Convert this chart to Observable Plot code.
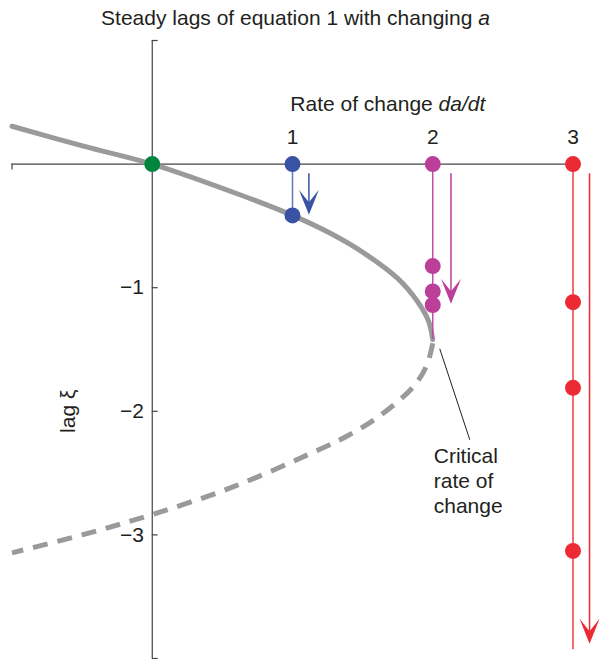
<!DOCTYPE html>
<html>
<head>
<meta charset="utf-8">
<script src="https://cdn.jsdelivr.net/npm/d3@7"></script>
<script src="https://cdn.jsdelivr.net/npm/@observablehq/plot@0.6"></script>
<style>
  body { margin: 0; background: #fff; }
  svg { display: block; }
</style>
</head>
<body>
<div id="chart"></div>
<script>
// Steady lag ξ as a function of the rate of change da/dt: [rate, lag]
const stableBranch = [
  [-1, 0.306], [-0.49, 0.145], [0, 0], [0.63, -0.25], [1, -0.415],
  [1.27, -0.56], [1.51, -0.72], [1.75, -0.925], [1.89, -1.11],
  [1.97, -1.27], [2.0, -1.42]
];
const unstableBranch = [
  [2.0, -1.45], [1.96, -1.62], [1.87, -1.79], [1.63, -2.03], [1.39, -2.2],
  [1.176, -2.317], [0.58, -2.61], [0, -2.835], [-0.5, -3.0], [-1, -3.145]
];

// Simulated runs at three rates of change
const runRates = [1, 2, 3];
const runColors = ["#3853a4", "#bb3f99", "#ec2a33"];
const runLineColors = ["#6177ba", "#c44ea3", "#ee3b42"];
const runLags = [
  [0, -0.415],
  [0, -0.825, -1.03, -1.14],
  [0, -1.117, -1.81, -3.13]
];
const runLineEnd = [-0.415, -1.42, -3.93];
const arrowRates = [1.117, 2.13, 3.118];
const arrowFrom = [-0.078, -0.078, -0.078];
const arrowTo = [-0.41, -1.13, -3.88];

// Equilibrium at zero rate
const originPoint = [[0, 0]];

// Axis ticks and labels
const xTicks = [1, 2, 3];
const xTickLabels = ["1", "2", "3"];
const yTicks = [-1, -2, -3];
const yTickLabels = ["−1", "−2", "−3"];
const yCaps = [1, -4];

// Annotation of the fold point
const noteText = ["Critical\nrate of\nchange"];
const notePos = [[2.007, -2.278]];
const noteLeader = [[2.05, -1.494, 2.264, -2.23]];

const font = "Liberation Sans, Arial, Helvetica, sans-serif";
const ink = "#231f20";
const axisInk = "#444";

// rows
const dotRows = runRates.flatMap((r, i) =>
  runLags[i].map(l => ({x: r, y: l, c: runColors[i]})));
const lineRows = runRates.map((r, i) => ({x: r, y1: 0, y2: runLineEnd[i], c: runLineColors[i]}));
const arrowRows = arrowRates.map((r, i) => ({x: r, y1: arrowFrom[i], y2: arrowTo[i], c: runColors[i]}));

// Notched arrowhead with its tip at the origin, pointing down
const arrowHead = {
  draw(ctx) {
    ctx.moveTo(0, 0);
    ctx.lineTo(-10, -25);
    ctx.lineTo(0, -12.5);
    ctx.lineTo(10, -25);
    ctx.closePath();
  }
};

const textStyle = {fontFamily: font, fontSize: 21, fill: ink};

const chart = Plot.plot({
  width: 600,
  height: 659,
  marginLeft: 11.5,
  marginRight: 27.5,
  marginTop: 40,
  marginBottom: 1,
  x: {domain: [-1, 3], axis: null},
  y: {domain: [-4, 1], axis: null},
  style: {fontFamily: font, background: "#fff", overflow: "visible"},
  marks: [
    // axes crossing at the origin
    Plot.ruleY([0], {x1: -1, x2: 3, stroke: axisInk, strokeWidth: 1.2}),
    Plot.ruleX([0], {y1: -4, y2: 1, stroke: axisInk, strokeWidth: 1.2}),
    Plot.ruleY(yTicks.concat(yCaps), {x1: 0, x2: 0.042, stroke: axisInk, strokeWidth: 1.2}),
    Plot.ruleX([-1], {y1: 0, y2: -0.047, stroke: axisInk, strokeWidth: 1.2}),
    Plot.text(xTicks, {x: d => d, y: 0, text: (d, i) => xTickLabels[i], dy: -20.3, lineAnchor: "bottom", ...textStyle}),
    Plot.text(yTicks, {x: 0, y: d => d, text: (d, i) => yTickLabels[i], textAnchor: "end", dx: -8.4, lineAnchor: "middle", ...textStyle}),
    Plot.text(["Rate of change"], {x: 2.0, y: 0.428, textAnchor: "end", lineAnchor: "bottom", ...textStyle}),
    Plot.text(["da/dt"], {x: 2.0, y: 0.428, textAnchor: "start", dx: 5.8, lineAnchor: "bottom", fontStyle: "italic", ...textStyle}),
    Plot.text(["lag ξ"], {x: -0.6, y: -2.0, rotate: -90, lineAnchor: "middle", textAnchor: "middle", ...textStyle}),

    // steady-state branches
    Plot.line(unstableBranch, {x: d => d[0], y: d => d[1], curve: "catmull-rom", stroke: "#999a9c", strokeWidth: 5, strokeDasharray: "15,10", strokeLinecap: "butt"}),
    Plot.line(stableBranch, {x: d => d[0], y: d => d[1], curve: "catmull-rom", stroke: "#999a9c", strokeWidth: 5}),

    // runs
    Plot.ruleX(lineRows, {x: "x", y1: "y1", y2: "y2", stroke: "c", strokeWidth: 1.5}),
    Plot.ruleX(arrowRows, {x: "x", y1: "y1", y2: d => d.y2 + 0.05, stroke: "c", strokeWidth: 1.5}),
    Plot.dot(arrowRows, {x: "x", y: "y2", fill: "c", symbol: arrowHead, stroke: "none"}),
    Plot.dot(dotRows, {x: "x", y: "y", fill: "c", r: 8, stroke: "none"}),
    Plot.dot(originPoint, {x: d => d[0], y: d => d[1], fill: "#00843e", r: 8, stroke: "none"}),

    // annotation
    Plot.link(noteLeader, {x1: d => d[0], y1: d => d[1], x2: d => d[2], y2: d => d[3], stroke: ink, strokeWidth: 1}),
    Plot.text(noteText, {x: () => notePos[0][0], y: () => notePos[0][1], textAnchor: "start", lineAnchor: "top", lineHeight: 25 / 21, ...textStyle})
  ]
});

// Title with an italic parameter name
const svg = d3.select(chart);
const title = svg.append("text")
  .attr("x", 295.5).attr("y", 25)
  .attr("text-anchor", "middle")
  .attr("font-family", font).attr("font-size", 21).attr("fill", ink);
title.append("tspan").text("Steady lags of equation 1 with changing ");
title.append("tspan").attr("font-style", "italic").text("a");

document.getElementById("chart").append(chart);
</script>
</body>
</html>
